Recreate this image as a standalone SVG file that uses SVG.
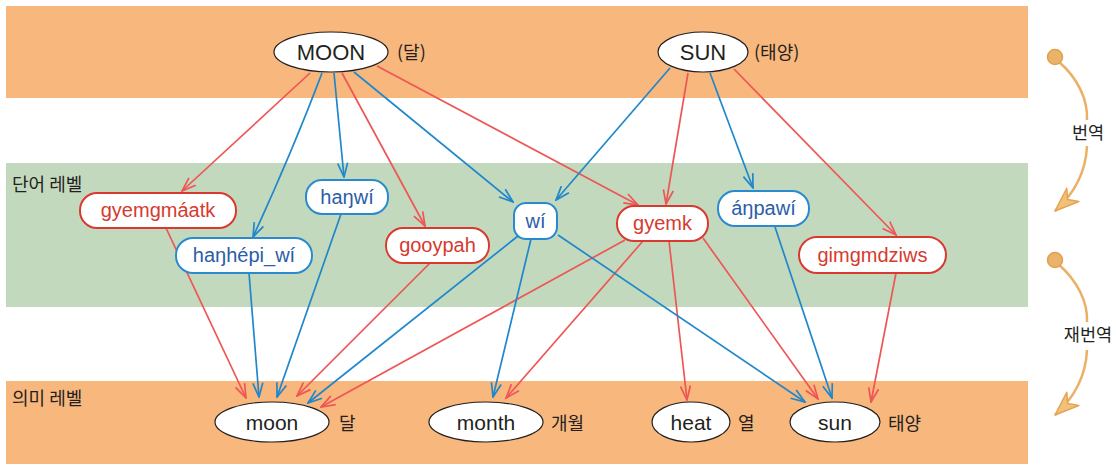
<svg xmlns="http://www.w3.org/2000/svg" width="1116" height="466" viewBox="0 0 1116 466">
<defs>
<style>
.band-o{fill:#F8B77C}
.band-g{fill:#C3D9BD}
.ell{fill:#fff;stroke:#231F20;stroke-width:1.2}
.big{font-family:"Liberation Sans",Arial,sans-serif;font-size:22px;fill:#231F20;text-anchor:middle}
.mean{font-family:"Liberation Sans",Arial,sans-serif;font-size:21px;fill:#231F20;text-anchor:middle}
.ko{font-family:"Noto Sans CJK KR","Noto Sans",sans-serif;font-size:18px;fill:#231F20}
.ko2{font-family:"Noto Sans CJK KR","Noto Sans",sans-serif;font-size:17.5px;fill:#231F20;text-anchor:middle}
.wr rect{fill:#fff;stroke:#D93A30;stroke-width:2}
.wb rect{fill:#fff;stroke:#2A8AD0;stroke-width:2}
.wr text,.wb text{font-family:"Liberation Sans",Arial,sans-serif;font-size:20px;text-anchor:middle}
.wr text{fill:#D63A30}
.wb text{fill:#2B5DA8}
.er{stroke:#EE5656;stroke-width:1.7;fill:none;marker-end:url(#ar)}
.eb{stroke:#1F87CC;stroke-width:1.7;fill:none;marker-end:url(#ab)}
.oc{stroke:#EBB064;stroke-width:2.5;fill:none}
.dot{fill:#E9B46A;stroke:#E0A04E;stroke-width:1.5}
</style>
<marker id="ar" viewBox="0 0 16 12" refX="15" refY="6" markerWidth="16" markerHeight="12" markerUnits="userSpaceOnUse" orient="auto">
<path d="M1,1 L15,6 L1,11" fill="none" stroke="#EE5656" stroke-width="1.7"/>
</marker>
<marker id="ab" viewBox="0 0 16 12" refX="15" refY="6" markerWidth="16" markerHeight="12" markerUnits="userSpaceOnUse" orient="auto">
<path d="M1,1 L15,6 L1,11" fill="none" stroke="#1F87CC" stroke-width="1.7"/>
</marker>
<marker id="ao" viewBox="0 0 28 22" refX="26" refY="11" markerWidth="28" markerHeight="22" markerUnits="userSpaceOnUse" orient="auto">
<path d="M26,11 L2,2 L9,11 L2,20 Z" fill="#F1C07C" stroke="#E6A450" stroke-width="1.5" stroke-linejoin="round"/>
</marker>
</defs>

<g id="bands">
<rect class="band-o" x="6" y="6" width="1022" height="92"/>
<rect class="band-g" x="6" y="163" width="1022" height="144"/>
<rect class="band-o" x="6" y="381" width="1022" height="83"/>
<text class="ko" x="12" y="191">단어 레벨</text>
<text class="ko" x="12" y="405">의미 레벨</text>
</g>

<g id="connectors">
<line class="er" x1="310" y1="73" x2="182" y2="191"/>
<path class="eb" d="M322,73 Q293,150 253,237"/>
<line class="eb" x1="334" y1="73" x2="344" y2="177"/>
<line class="er" x1="342" y1="73" x2="425" y2="226"/>
<line class="eb" x1="354" y1="72" x2="513" y2="202"/>
<line class="er" x1="377" y1="66" x2="638" y2="205"/>
<line class="eb" x1="670" y1="68" x2="556" y2="200"/>
<line class="er" x1="688" y1="73" x2="666" y2="204"/>
<line class="eb" x1="710" y1="73" x2="753" y2="188"/>
<line class="er" x1="734" y1="69" x2="896" y2="235"/>

<line class="er" x1="166" y1="228" x2="246" y2="398"/>
<line class="eb" x1="249" y1="273" x2="259" y2="397"/>
<line class="eb" x1="341" y1="214" x2="277" y2="397"/>
<line class="er" x1="430" y1="263" x2="297" y2="396"/>
<line class="eb" x1="518" y1="236" x2="308" y2="403"/>
<line class="er" x1="625" y1="240" x2="321" y2="407"/>
<line class="eb" x1="531" y1="239" x2="493" y2="397"/>
<line class="er" x1="643" y1="241" x2="506" y2="398"/>
<line class="er" x1="669" y1="241" x2="687" y2="400"/>
<line class="er" x1="703" y1="238" x2="818" y2="399"/>
<line class="eb" x1="558" y1="235" x2="805" y2="402"/>
<line class="eb" x1="775" y1="227" x2="832" y2="398"/>
<line class="er" x1="896" y1="273" x2="871" y2="402"/>
</g>

<g id="MOON">
<ellipse class="ell" cx="331" cy="52" rx="57" ry="20"/>
<text class="big" x="331" y="60">MOON</text>
<text class="ko" x="397" y="59">(달)</text>
</g>
<g id="SUN">
<ellipse class="ell" cx="703" cy="52" rx="45" ry="20"/>
<text class="big" x="703" y="60">SUN</text>
<text class="ko" x="754" y="59">(태양)</text>
</g>

<g id="w-gyemgmaatk" class="wr">
<rect x="80" y="193" width="156" height="35" rx="17"/>
<text x="158" y="217">gyemgmáatk</text>
</g>
<g id="w-hanhepi_wi" class="wb">
<rect x="176" y="238" width="136" height="35" rx="17"/>
<text x="244" y="262">haŋhépi_wí</text>
</g>
<g id="w-hanwi" class="wb">
<rect x="306" y="180" width="82" height="34" rx="16"/>
<text x="347" y="204">haŋwí</text>
</g>
<g id="w-gooypah" class="wr">
<rect x="386" y="228" width="103" height="35" rx="17"/>
<text x="437.5" y="252">gooypah</text>
</g>
<g id="w-wi" class="wb">
<rect x="514" y="203" width="43" height="36" rx="12"/>
<text x="535.5" y="228">wí</text>
</g>
<g id="w-gyemk" class="wr">
<rect x="617" y="206" width="91" height="35" rx="17"/>
<text x="662.5" y="230">gyemk</text>
</g>
<g id="w-anpawi" class="wb">
<rect x="718" y="191" width="91" height="35" rx="17"/>
<text x="763.5" y="215">áŋpawí</text>
</g>
<g id="w-gimgmdziws" class="wr">
<rect x="799" y="237" width="147" height="36" rx="18"/>
<text x="872.5" y="262">gimgmdziws</text>
</g>

<g id="m-moon">
<ellipse class="ell" cx="272" cy="422" rx="57" ry="20"/>
<text class="mean" x="272" y="430">moon</text>
<text class="ko" x="339" y="430">달</text>
</g>
<g id="m-month">
<ellipse class="ell" cx="486" cy="422" rx="57" ry="20"/>
<text class="mean" x="486" y="430">month</text>
<text class="ko" x="551" y="430">개월</text>
</g>
<g id="m-heat">
<ellipse class="ell" cx="691" cy="422" rx="39" ry="20"/>
<text class="mean" x="691" y="430">heat</text>
<text class="ko" x="738" y="430">열</text>
</g>
<g id="m-sun">
<ellipse class="ell" cx="835" cy="422" rx="45" ry="20"/>
<text class="mean" x="835" y="430">sun</text>
<text class="ko" x="888" y="430">태양</text>
</g>

<g id="legend">
<path class="oc" d="M1058,61 C1078,78 1088,100 1087,120"/>
<path class="oc" d="M1087,146 C1086,170 1076,192 1055,211" marker-end="url(#ao)"/>
<circle class="dot" cx="1055" cy="57" r="7.5"/>
<text class="ko2" x="1088" y="139">번역</text>
<path class="oc" d="M1058,264 C1078,281 1088,303 1087,322"/>
<path class="oc" d="M1087,350 C1086,374 1076,396 1055,415" marker-end="url(#ao)"/>
<circle class="dot" cx="1055" cy="260" r="7.5"/>
<text class="ko2" x="1088" y="341">재번역</text>
</g>
</svg>
